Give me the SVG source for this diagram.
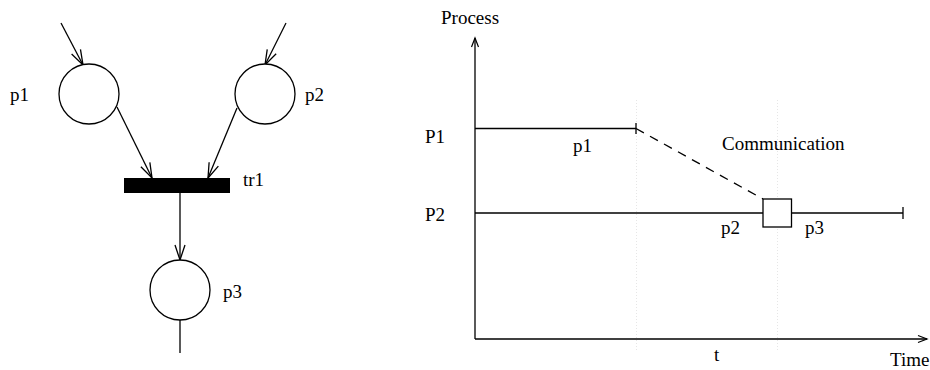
<svg xmlns="http://www.w3.org/2000/svg" width="930" height="370" viewBox="0 0 930 370">
  <style>
    .ln { stroke: #000; stroke-width: 1.3; fill: none; }
    .place { stroke: #000; stroke-width: 1.3; fill: #fff; }
    .lbl { font-family: "Liberation Serif", "Times New Roman", serif; font-size: 19px; fill: #000; }
    .guide { stroke: #e6e6e6; stroke-width: 1; stroke-dasharray: 1 2; }
  </style>
  <defs>
    <marker id="vhead" markerUnits="userSpaceOnUse" markerWidth="20" markerHeight="14" viewBox="-16 -7 18 14" refX="0" refY="0" orient="auto">
      <path d="M-15,-5 L0,0 L-15,5" fill="none" stroke="#000" stroke-width="1.3"/>
    </marker>
    <marker id="axhead" markerUnits="userSpaceOnUse" markerWidth="12" markerHeight="10" viewBox="-10 -5 12 10" refX="0" refY="0" orient="auto">
      <path d="M-9,-3.5 L0,0 L-9,3.5" fill="none" stroke="#000" stroke-width="1.2"/>
    </marker>
  </defs>

  <!-- Petri net -->
  <g id="connectors">
    <line class="ln" x1="61" y1="23" x2="83" y2="65" marker-end="url(#vhead)"/>
    <line class="ln" x1="286" y1="23" x2="265" y2="65" marker-end="url(#vhead)"/>
    <line class="ln" x1="117" y1="107" x2="152" y2="178" marker-end="url(#vhead)"/>
    <line class="ln" x1="237" y1="108" x2="208" y2="178" marker-end="url(#vhead)"/>
    <line class="ln" x1="180" y1="193" x2="180" y2="260" marker-end="url(#vhead)"/>
    <line class="ln" x1="180" y1="320" x2="180" y2="353"/>
  </g>
  <g id="p1">
    <circle class="place" cx="89" cy="94" r="30"/>
    <text class="lbl" x="10" y="101">p1</text>
  </g>
  <g id="p2">
    <circle class="place" cx="265" cy="94" r="30"/>
    <text class="lbl" x="305" y="101">p2</text>
  </g>
  <g id="tr1">
    <rect x="124" y="178" width="106" height="15" fill="#000"/>
    <text class="lbl" x="243" y="186">tr1</text>
  </g>
  <g id="p3">
    <circle class="place" cx="180" cy="290" r="30"/>
    <text class="lbl" x="223" y="298">p3</text>
  </g>

  <!-- Timing chart -->
  <g id="timing">
    <line class="guide" x1="636.5" y1="100" x2="636.5" y2="350"/>
    <line class="guide" x1="777.5" y1="100" x2="777.5" y2="350"/>
    <line class="ln" x1="475" y1="339" x2="475" y2="38" marker-end="url(#axhead)"/>
    <line class="ln" x1="475" y1="339" x2="927" y2="339" marker-end="url(#axhead)"/>
    <text class="lbl" x="441" y="24">Process</text>
    <text class="lbl" x="890" y="366">Time</text>
    <text class="lbl" x="714" y="361">t</text>

    <text class="lbl" x="425" y="143">P1</text>
    <text class="lbl" x="425" y="221">P2</text>

    <line class="ln" x1="475" y1="128.5" x2="636" y2="128.5"/>
    <line class="ln" x1="636" y1="123" x2="636" y2="134"/>
    <text class="lbl" x="573" y="152">p1</text>

    <line class="ln" x1="636" y1="128.5" x2="763" y2="199" stroke-dasharray="9 7"/>
    <text class="lbl" x="722" y="150">Communication</text>

    <line class="ln" x1="475" y1="213" x2="763" y2="213"/>
    <rect class="place" x="763" y="199" width="28.5" height="28"/>
    <line class="ln" x1="791.5" y1="213" x2="903" y2="213"/>
    <line class="ln" x1="903" y1="207" x2="903" y2="219"/>
    <text class="lbl" x="721" y="234">p2</text>
    <text class="lbl" x="805" y="234">p3</text>
  </g>
</svg>
